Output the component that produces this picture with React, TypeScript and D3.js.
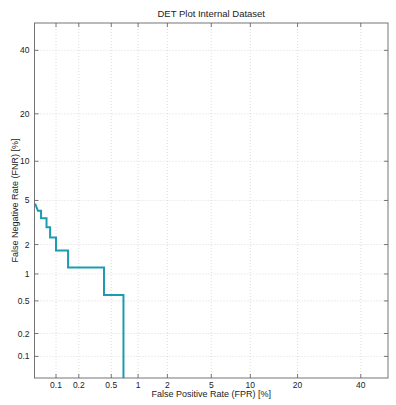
import React from "react";
import * as d3 from "d3";

const TITLE = "DET Plot Internal Dataset";
const X_LABEL = "False Positive Rate (FPR) [%]";
const Y_LABEL = "False Negative Rate (FNR) [%]";

// axis range in percent
const AXIS_MIN = 0.05;
const AXIS_MAX = 50;

const xTicks = [0.1, 0.2, 0.5, 1, 2, 5, 10, 20, 40];
const yTicks = [0.1, 0.2, 0.5, 1, 2, 5, 10, 20, 40];

// DET curve vertices (percent)
const curveFPR = [0.051, 0.056, 0.062, 0.062, 0.074, 0.074, 0.083, 0.083, 0.1, 0.1, 0.145, 0.145, 0.41, 0.41, 0.69, 0.69];
const curveFNR = [4.7, 4.09, 4.09, 3.51, 3.51, 2.92, 2.92, 2.34, 2.34, 1.75, 1.75, 1.17, 1.17, 0.585, 0.585, 0.001];

const W = 396;
const H = 405;
const M = { left: 34.5, right: 8, top: 23, bottom: 27 };

function inv(p: number): number {
  // Acklam's inverse normal CDF
  const a = [-3.969683028665376e1, 2.209460984245205e2, -2.759285104469687e2, 1.38357751867269e2, -3.066479806614716e1, 2.506628277459239];
  const b = [-5.447609879822406e1, 1.615858368580409e2, -1.556989798598866e2, 6.680131188771972e1, -1.328068155288572e1];
  const c = [-7.784894002430293e-3, -3.223964580411365e-1, -2.400758277161838, -2.549732539343734, 4.374664141464968, 2.938163982698783];
  const d = [7.784695709041462e-3, 3.224671290700398e-1, 2.445134137142996, 3.754408661907416];
  const pl = 0.02425;
  let q: number, r: number;
  if (p < pl) {
    q = Math.sqrt(-2 * Math.log(p));
    return (((((c[0] * q + c[1]) * q + c[2]) * q + c[3]) * q + c[4]) * q + c[5]) /
      ((((d[0] * q + d[1]) * q + d[2]) * q + d[3]) * q + 1);
  } else if (p <= 1 - pl) {
    q = p - 0.5;
    r = q * q;
    return (((((a[0] * r + a[1]) * r + a[2]) * r + a[3]) * r + a[4]) * r + a[5]) * q /
      (((((b[0] * r + b[1]) * r + b[2]) * r + b[3]) * r + b[4]) * r + 1);
  } else {
    q = Math.sqrt(-2 * Math.log(1 - p));
    return -(((((c[0] * q + c[1]) * q + c[2]) * q + c[3]) * q + c[4]) * q + c[5]) /
      ((((d[0] * q + d[1]) * q + d[2]) * q + d[3]) * q + 1);
  }
}

const probit = (pct: number) => inv(pct / 100);

export default function App() {
  const x0 = M.left, x1 = W - M.right, y0 = M.top, y1 = H - M.bottom;
  const xs = d3.scaleLinear().domain([probit(AXIS_MIN), probit(AXIS_MAX)]).range([x0, x1]);
  const ys = d3.scaleLinear().domain([probit(AXIS_MIN), probit(AXIS_MAX)]).range([y1, y0]);
  const X = (v: number) => xs(probit(v));
  const Y = (v: number) => ys(probit(Math.max(v, 0.0001)));

  const pts = curveFPR.map((f, i) => [f, curveFNR[i]] as [number, number]);
  const line = d3.line<[number, number]>().x(d => X(d[0])).y(d => Y(d[1]));
  const font = "Liberation Sans, Arial, sans-serif";
  const tickLen = 4;

  return (
    <svg width={W} height={H} style={{ position: "absolute", left: 0, top: 0, background: "#fff" }} fontFamily={font}>
      <defs>
        <clipPath id="plotclip">
          <rect x={x0} y={y0} width={x1 - x0} height={y1 - y0} />
        </clipPath>
      </defs>
      <rect x={0} y={0} width={W} height={H} fill="#fff" />
      {xTicks.map(t => (
        <line key={"gx" + t} x1={X(t)} x2={X(t)} y1={y0} y2={y1} stroke="#cfcfcf" strokeWidth={0.7} strokeDasharray="1,2" />
      ))}
      {yTicks.map(t => (
        <line key={"gy" + t} x1={x0} x2={x1} y1={Y(t)} y2={Y(t)} stroke="#cfcfcf" strokeWidth={0.7} strokeDasharray="1,2" />
      ))}
      {xTicks.map(t => (
        <g key={"tx" + t} stroke="#555" strokeWidth={0.8}>
          <line x1={X(t)} x2={X(t)} y1={y1} y2={y1 - tickLen} />
          <line x1={X(t)} x2={X(t)} y1={y0} y2={y0 + tickLen} />
        </g>
      ))}
      {yTicks.map(t => (
        <g key={"ty" + t} stroke="#555" strokeWidth={0.8}>
          <line x1={x0} x2={x0 + tickLen} y1={Y(t)} y2={Y(t)} />
          <line x1={x1} x2={x1 - tickLen} y1={Y(t)} y2={Y(t)} />
        </g>
      ))}
      <path d={line(pts) || ""} fill="none" stroke="#1d9bb0" strokeWidth={2} clipPath="url(#plotclip)" />
      <rect x={x0} y={y0} width={x1 - x0} height={y1 - y0} fill="none" stroke="#666" strokeWidth={0.9} />
      {xTicks.map(t => (
        <text key={"lx" + t} x={X(t)} y={y1 + 10} fontSize={8.5} fill="#222" textAnchor="middle">{t}</text>
      ))}
      {yTicks.map(t => (
        <text key={"ly" + t} x={x0 - 5} y={Y(t) + 3} fontSize={8.5} fill="#222" textAnchor="end">{t}</text>
      ))}
      <text x={(x0 + x1) / 2} y={17} fontSize={9.5} fill="#222" textAnchor="middle">{TITLE}</text>
      <text x={(x0 + x1) / 2} y={y1 + 19} fontSize={9} fill="#222" textAnchor="middle">{X_LABEL}</text>
      <text transform={`translate(18,${(y0 + y1) / 2}) rotate(-90)`} fontSize={9} fill="#222" textAnchor="middle">{Y_LABEL}</text>
    </svg>
  );
}
